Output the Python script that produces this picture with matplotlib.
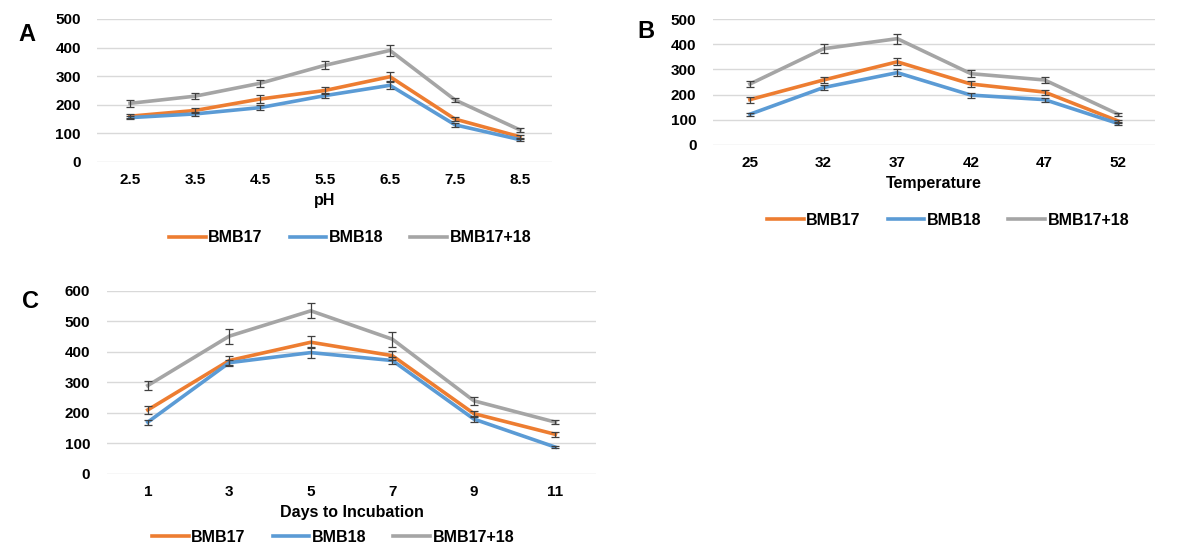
import matplotlib
matplotlib.use("Agg")
import matplotlib.pyplot as plt
from matplotlib.lines import Line2D

plt.rcParams['font.family'] = ['Liberation Sans', 'DejaVu Sans']
plt.rcParams['font.weight'] = 'bold'

SERIES = ['BMB17', 'BMB18', 'BMB17+18']
COLORS = ['#ED7D31', '#5B9BD5', '#A5A5A5']

# Panel A: pH
ph_labels = ['2.5', '3.5', '4.5', '5.5', '6.5', '7.5', '8.5']
ph_bmb17 = [160, 180, 220, 250, 298, 150, 88]
ph_bmb18 = [155, 168, 190, 232, 268, 130, 78]
ph_mix = [205, 230, 275, 338, 390, 217, 112]
ph_err17 = [8, 10, 14, 12, 18, 8, 6]
ph_err18 = [6, 8, 10, 10, 14, 8, 5]
ph_errmix = [12, 10, 12, 14, 18, 8, 6]

# Panel B: temperature
temp_labels = ['25', '32', '37', '42', '47', '52']
temp_bmb17 = [180, 258, 330, 242, 210, 95]
temp_bmb18 = [122, 228, 287, 198, 180, 85]
temp_mix = [242, 382, 422, 283, 258, 122]
temp_err17 = [12, 12, 14, 12, 10, 6]
temp_err18 = [5, 10, 14, 10, 8, 5]
temp_errmix = [12, 18, 20, 15, 12, 6]

# Panel C: days to incubation
day_labels = ['1', '3', '5', '7', '9', '11']
day_bmb17 = [210, 372, 432, 388, 198, 130]
day_bmb18 = [170, 365, 398, 372, 180, 88]
day_mix = [290, 452, 535, 442, 240, 170]
day_err17 = [12, 15, 20, 15, 10, 8]
day_err18 = [8, 10, 18, 12, 10, 4]
day_errmix = [14, 25, 25, 25, 14, 7]


def draw_panel(ax, labels, values, errors, ymax, xlabel):
    x = list(range(len(labels)))
    for vals, errs, color in zip(values, errors, COLORS):
        ax.plot(x, vals, color=color, linewidth=2.6, zorder=3)
        ax.errorbar(x, vals, yerr=errs, fmt='none', ecolor='#404040',
                    elinewidth=0.9, capsize=3, capthick=0.9, zorder=4)
    ax.set_xlim(-0.5, len(labels) - 0.5)
    ax.set_ylim(0, ymax)
    ax.set_yticks(range(0, ymax + 1, 100))
    ax.set_xticks(x)
    ax.set_xticklabels(labels)
    ax.yaxis.grid(True, color='#D9D9D9', linewidth=1.0)
    ax.set_axisbelow(True)
    for s in ax.spines.values():
        s.set_visible(False)
    ax.tick_params(length=0, labelsize=11, pad=8)
    ax.tick_params(axis='y', pad=12)
    for t in ax.get_xticklabels() + ax.get_yticklabels():
        t.set_fontweight('bold')
    ax.set_xlabel(xlabel, fontsize=11.5, fontweight='bold', labelpad=4)


def add_legend(fig, cx, cy):
    handles = [Line2D([0], [0], color=c, linewidth=2.6) for c in COLORS]
    fig.legend(handles, SERIES, loc='center', bbox_to_anchor=(cx, cy),
               ncol=3, frameon=False, handlelength=2.3,
               handletextpad=0.15, columnspacing=1.7,
               prop={'weight': 'bold', 'size': 11.5})


fig = plt.figure(figsize=(11.93, 5.43), dpi=100)

axA = fig.add_axes([0.0817, 0.7017, 0.3814, 0.2634])
draw_panel(axA, ph_labels, [ph_bmb17, ph_bmb18, ph_mix],
           [ph_err17, ph_err18, ph_errmix], 500, 'pH')
axB = fig.add_axes([0.5977, 0.733, 0.3705, 0.232])
draw_panel(axB, temp_labels, [temp_bmb17, temp_bmb18, temp_mix],
           [temp_err17, temp_err18, temp_errmix], 500, 'Temperature')
axC = fig.add_axes([0.0897, 0.1271, 0.41, 0.337])
draw_panel(axC, day_labels, [day_bmb17, day_bmb18, day_mix],
           [day_err17, day_err18, day_errmix], 600, 'Days to Incubation')

add_legend(fig, 350 / 1193, 1 - 238 / 543)
add_legend(fig, 948 / 1193, 1 - 220 / 543)
add_legend(fig, 333 / 1193, 1 - 537 / 543)

fig.text(18 / 1193, 1 - 35 / 543, 'A', fontsize=17, fontweight='bold', va='center')
fig.text(637 / 1193, 1 - 32 / 543, 'B', fontsize=17, fontweight='bold', va='center')
fig.text(22 / 1193, 1 - 302 / 543, 'C', fontsize=17, fontweight='bold', va='center')

fig.savefig('out.png', dpi=100, facecolor='white')
